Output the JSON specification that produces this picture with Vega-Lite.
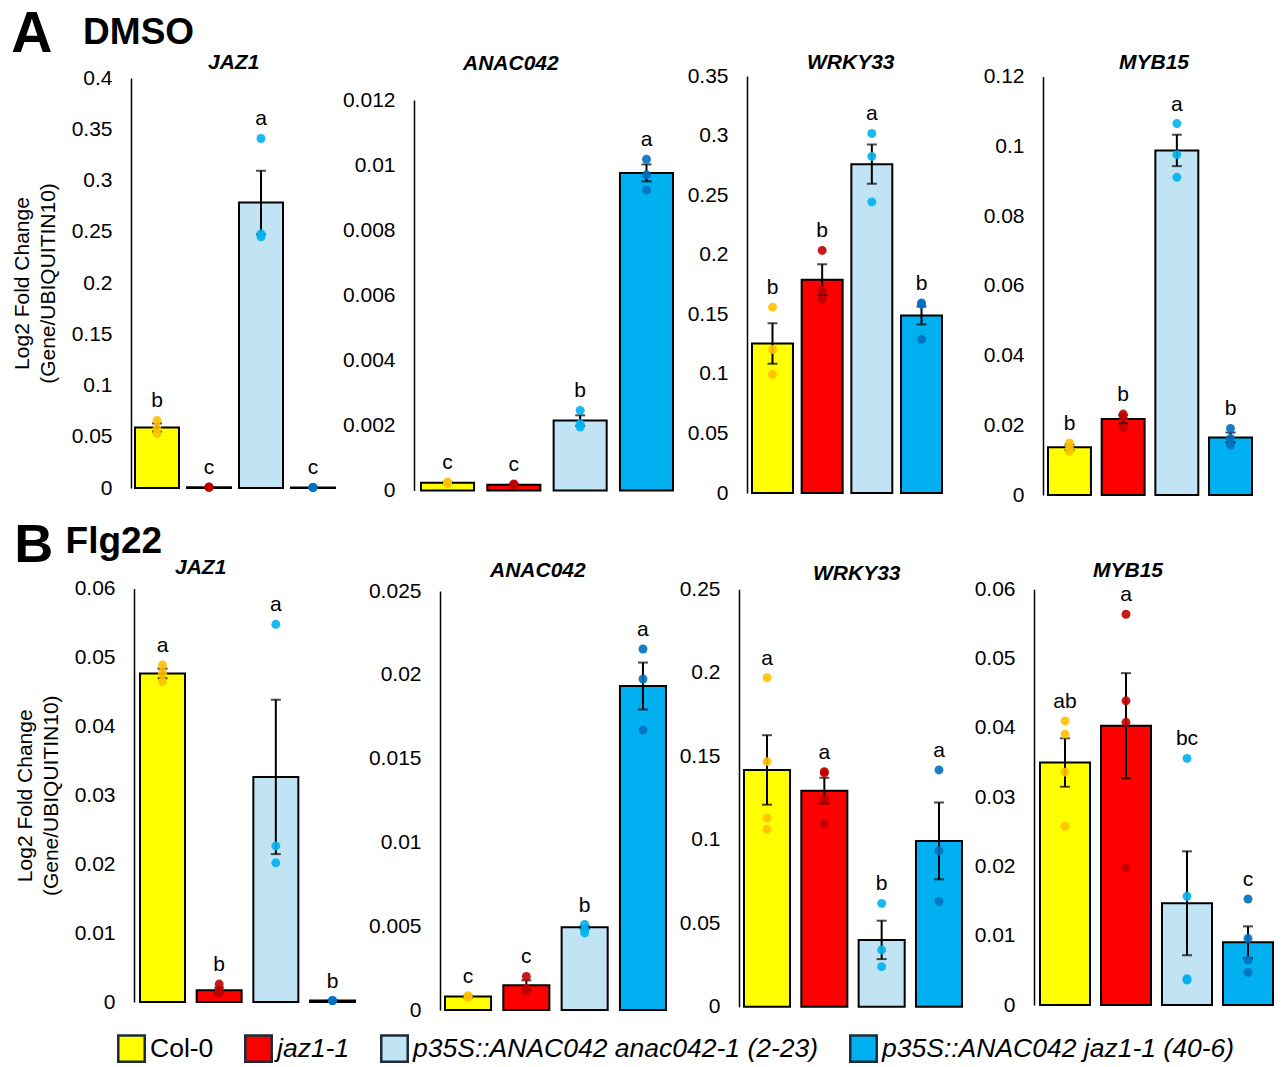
{
  "$schema": "https://vega.github.io/schema/vega-lite/v6.json",
  "padding": {"left": 11, "top": 5, "right": 5, "bottom": 5},
  "background": "white",
  "datasets": {
    "d": [
      {"panel": "A1", "geno": "Col-0", "mean": 0.059, "se": 0.004, "letter": "b", "reps": [0.066, 0.058, 0.053]},
      {"panel": "A1", "geno": "jaz1-1", "mean": 0.0008, "se": 0.0002, "letter": "c", "reps": [0.0009, 0.0008, 0.0007]},
      {"panel": "A1", "geno": "p35S::ANAC042 anac042-1 (2-23)", "mean": 0.2785, "se": 0.031, "letter": "a", "reps": [0.341, 0.248, 0.245]},
      {"panel": "A1", "geno": "p35S::ANAC042 jaz1-1 (40-6)", "mean": 0.0005, "se": 0.0001, "letter": "c", "reps": [0.0006, 0.0005, 0.0004]},
      {"panel": "A2", "geno": "Col-0", "mean": 0.00024, "se": 0.00002, "letter": "c", "reps": [0.00026, 0.00024, 0.00022]},
      {"panel": "A2", "geno": "jaz1-1", "mean": 0.00018, "se": 0.00002, "letter": "c", "reps": [0.0002, 0.00018, 0.00016]},
      {"panel": "A2", "geno": "p35S::ANAC042 anac042-1 (2-23)", "mean": 0.00215, "se": 0.00016, "letter": "b", "reps": [0.00246, 0.00205, 0.00195]},
      {"panel": "A2", "geno": "p35S::ANAC042 jaz1-1 (40-6)", "mean": 0.00976, "se": 0.00026, "letter": "a", "reps": [0.01018, 0.0097, 0.00923]},
      {"panel": "A3", "geno": "Col-0", "mean": 0.1255, "se": 0.017, "letter": "b", "reps": [0.156, 0.1205, 0.0996]},
      {"panel": "A3", "geno": "jaz1-1", "mean": 0.179, "se": 0.013, "letter": "b", "reps": [0.2036, 0.17, 0.1623]},
      {"panel": "A3", "geno": "p35S::ANAC042 anac042-1 (2-23)", "mean": 0.276, "se": 0.0165, "letter": "a", "reps": [0.3018, 0.2825, 0.2443]},
      {"panel": "A3", "geno": "p35S::ANAC042 jaz1-1 (40-6)", "mean": 0.149, "se": 0.0075, "letter": "b", "reps": [0.1595, 0.1585, 0.129]},
      {"panel": "A4", "geno": "Col-0", "mean": 0.01366, "se": 0.0008, "letter": "b", "reps": [0.0149, 0.0135, 0.0125]},
      {"panel": "A4", "geno": "jaz1-1", "mean": 0.02176, "se": 0.0012, "letter": "b", "reps": [0.0232, 0.0224, 0.0193]},
      {"panel": "A4", "geno": "p35S::ANAC042 anac042-1 (2-23)", "mean": 0.0988, "se": 0.0045, "letter": "a", "reps": [0.1065, 0.0976, 0.0911]},
      {"panel": "A4", "geno": "p35S::ANAC042 jaz1-1 (40-6)", "mean": 0.0165, "se": 0.0014, "letter": "b", "reps": [0.0191, 0.0162, 0.0143]},
      {"panel": "B1", "geno": "Col-0", "mean": 0.04767, "se": 0.0007, "letter": "a", "reps": [0.0489, 0.0477, 0.0465]},
      {"panel": "B1", "geno": "jaz1-1", "mean": 0.0017, "se": 0.0004, "letter": "b", "reps": [0.0026, 0.0017, 0.0012]},
      {"panel": "B1", "geno": "p35S::ANAC042 anac042-1 (2-23)", "mean": 0.03266, "se": 0.0112, "letter": "a", "reps": [0.0548, 0.02265, 0.0202]},
      {"panel": "B1", "geno": "p35S::ANAC042 jaz1-1 (40-6)", "mean": 0.0002, "se": 0.00003, "letter": "b", "reps": [0.0002, 0.0002, 0.0002]},
      {"panel": "B2", "geno": "Col-0", "mean": 0.0008, "se": 0.00005, "letter": "c", "reps": [0.00085, 0.0008, 0.00075]},
      {"panel": "B2", "geno": "jaz1-1", "mean": 0.00147, "se": 0.0003, "letter": "c", "reps": [0.002, 0.0013, 0.0011]},
      {"panel": "B2", "geno": "p35S::ANAC042 anac042-1 (2-23)", "mean": 0.00493, "se": 0.0001, "letter": "b", "reps": [0.0051, 0.0048, 0.0046]},
      {"panel": "B2", "geno": "p35S::ANAC042 jaz1-1 (40-6)", "mean": 0.01933, "se": 0.0014, "letter": "a", "reps": [0.02154, 0.01975, 0.0167]},
      {"panel": "B3", "geno": "Col-0", "mean": 0.1418, "se": 0.0208, "letter": "a", "reps": [0.1971, 0.1468, 0.1129, 0.1063]},
      {"panel": "B3", "geno": "jaz1-1", "mean": 0.1294, "se": 0.0077, "letter": "a", "reps": [0.1408, 0.14, 0.1243, 0.1095]},
      {"panel": "B3", "geno": "p35S::ANAC042 anac042-1 (2-23)", "mean": 0.04, "se": 0.0115, "letter": "b", "reps": [0.0619, 0.034, 0.024]},
      {"panel": "B3", "geno": "p35S::ANAC042 jaz1-1 (40-6)", "mean": 0.0993, "se": 0.023, "letter": "a", "reps": [0.1418, 0.0933, 0.0629]},
      {"panel": "B4", "geno": "Col-0", "mean": 0.035, "se": 0.0035, "letter": "ab", "reps": [0.041, 0.0391, 0.0336, 0.0258]},
      {"panel": "B4", "geno": "jaz1-1", "mean": 0.0403, "se": 0.0076, "letter": "a", "reps": [0.0564, 0.0439, 0.0408, 0.0198]},
      {"panel": "B4", "geno": "p35S::ANAC042 anac042-1 (2-23)", "mean": 0.01468, "se": 0.0075, "letter": "bc", "reps": [0.0356, 0.0157, 0.0038, 0.0036]},
      {"panel": "B4", "geno": "p35S::ANAC042 jaz1-1 (40-6)", "mean": 0.00905, "se": 0.0023, "letter": "c", "reps": [0.0153, 0.0096, 0.0065, 0.0047]}
    ]
  },
  "data": {"name": "d"},
  "spacing": 13,
  "vconcat": [
    {
      "title": {"text": "A", "subtitle": "\u200b\u00a0\u00a0\u00a0\u00a0\u00a0\u00a0\u00a0DMSO", "anchor": "start", "fontSize": 57, "fontWeight": "bold", "fontStyle": "normal", "subtitleFontSize": 37, "subtitleFontWeight": "bold", "subtitleFontStyle": "normal", "subtitlePadding": -49, "offset": -11.5, "color": "black", "subtitleColor": "black"},
      "spacing": 0,
      "bounds": "flush",
      "hconcat": [
        {
          "width": 283, "height": 419,
          "title": {"text": "JAZ1", "anchor": "start", "frame": "group", "dx": 77, "offset": -6},
          "transform": [{"filter": "datum.panel === 'A1'"}],
          "layer": [
            {"mark": {"type": "bar", "stroke": "black", "strokeWidth": 2},
             "encoding": {
               "x": {"field": "geno", "type": "nominal", "sort": null, "axis": null, "scale": {"domain": ["Col-0", "jaz1-1", "p35S::ANAC042 anac042-1 (2-23)", "p35S::ANAC042 jaz1-1 (40-6)"], "range": [4, 204], "paddingInner": 0.154, "paddingOuter": 0}},
               "y": {"field": "mean", "type": "quantitative", "title": ["Log2 Fold Change", "(Gene/UBIQUITIN10)"], "scale": {"domain": [0, 0.4], "range": [412, 2], "nice": false, "zero": true}, "axis": {"values": [0, 0.05, 0.1, 0.15, 0.2, 0.25, 0.3, 0.35, 0.4], "format": ".2~f"}},
               "fill": {"field": "geno", "type": "nominal", "scale": {"domain": ["Col-0", "jaz1-1", "p35S::ANAC042 anac042-1 (2-23)", "p35S::ANAC042 jaz1-1 (40-6)"], "range": ["#FFFF00", "#FF0000", "#C1E4F5", "#00B0F0"]}, "legend": {"orient": "none", "legendX": -14, "legendY": 958, "direction": "horizontal", "title": null, "columns": 4, "encode": {"labels": {"update": {"fontStyle": {"signal": "datum.label === 'Col-0' ? 'normal' : 'italic'"}}}}}}
             }},
            {"mark": {"type": "errorbar", "color": "black", "thickness": 2, "ticks": {"size": 10, "thickness": 2}},
             "encoding": {"x": {"field": "geno", "type": "nominal", "sort": null}, "y": {"field": "mean", "type": "quantitative", "title": ["Log2 Fold Change", "(Gene/UBIQUITIN10)"]}, "yError": {"field": "se"}}},
            {"transform": [{"flatten": ["reps"]}],
             "mark": {"type": "circle", "size": 80, "opacity": 0.9},
             "encoding": {"x": {"field": "geno", "type": "nominal", "sort": null}, "y": {"field": "reps", "type": "quantitative", "title": ["Log2 Fold Change", "(Gene/UBIQUITIN10)"]}, "color": {"field": "geno", "type": "nominal", "scale": {"domain": ["Col-0", "jaz1-1", "p35S::ANAC042 anac042-1 (2-23)", "p35S::ANAC042 jaz1-1 (40-6)"], "range": ["#FFC000", "#C00000", "#00B0F0", "#0070C0"]}, "legend": null}}},
            {"transform": [{"flatten": ["reps"]}, {"aggregate": [{"op": "max", "field": "reps", "as": "top"}], "groupby": ["geno", "letter"]}],
             "mark": {"type": "text", "baseline": "alphabetic", "dy": -13, "fontSize": 21, "color": "black"},
             "encoding": {"x": {"field": "geno", "type": "nominal", "sort": null}, "y": {"field": "top", "type": "quantitative", "title": ["Log2 Fold Change", "(Gene/UBIQUITIN10)"]}, "text": {"field": "letter"}}}
          ]
        },
        {
          "width": 333, "height": 419,
          "title": {"text": "ANAC042", "anchor": "start", "frame": "group", "dx": 49, "offset": 2.5},
          "transform": [{"filter": "datum.panel === 'A2'"}],
          "layer": [
            {"mark": {"type": "bar", "stroke": "black", "strokeWidth": 2},
             "encoding": {
               "x": {"field": "geno", "type": "nominal", "sort": null, "axis": null, "scale": {"domain": ["Col-0", "jaz1-1", "p35S::ANAC042 anac042-1 (2-23)", "p35S::ANAC042 jaz1-1 (40-6)"], "range": [7, 259], "paddingInner": 0.2, "paddingOuter": 0}},
               "y": {"field": "mean", "type": "quantitative", "title": null, "scale": {"domain": [0, 0.012], "range": [414.5, 24], "nice": false, "zero": true}, "axis": {"values": [0, 0.002, 0.004, 0.006, 0.008, 0.01, 0.012], "format": ".3~f"}},
               "fill": {"field": "geno", "type": "nominal", "scale": {"domain": ["Col-0", "jaz1-1", "p35S::ANAC042 anac042-1 (2-23)", "p35S::ANAC042 jaz1-1 (40-6)"], "range": ["#FFFF00", "#FF0000", "#C1E4F5", "#00B0F0"]}, "legend": {"orient": "none", "legendX": -14, "legendY": 958, "direction": "horizontal", "title": null, "columns": 4, "encode": {"labels": {"update": {"fontStyle": {"signal": "datum.label === 'Col-0' ? 'normal' : 'italic'"}}}}}}
             }},
            {"mark": {"type": "errorbar", "color": "black", "thickness": 2, "ticks": {"size": 10, "thickness": 2}},
             "encoding": {"x": {"field": "geno", "type": "nominal", "sort": null}, "y": {"field": "mean", "type": "quantitative", "title": null}, "yError": {"field": "se"}}},
            {"transform": [{"flatten": ["reps"]}],
             "mark": {"type": "circle", "size": 80, "opacity": 0.9},
             "encoding": {"x": {"field": "geno", "type": "nominal", "sort": null}, "y": {"field": "reps", "type": "quantitative", "title": null}, "color": {"field": "geno", "type": "nominal", "scale": {"domain": ["Col-0", "jaz1-1", "p35S::ANAC042 anac042-1 (2-23)", "p35S::ANAC042 jaz1-1 (40-6)"], "range": ["#FFC000", "#C00000", "#00B0F0", "#0070C0"]}, "legend": null}}},
            {"transform": [{"flatten": ["reps"]}, {"aggregate": [{"op": "max", "field": "reps", "as": "top"}], "groupby": ["geno", "letter"]}],
             "mark": {"type": "text", "baseline": "alphabetic", "dy": -13, "fontSize": 21, "color": "black"},
             "encoding": {"x": {"field": "geno", "type": "nominal", "sort": null}, "y": {"field": "top", "type": "quantitative", "title": null}, "text": {"field": "letter"}}}
          ]
        },
        {
          "width": 296, "height": 419,
          "title": {"text": "WRKY33", "anchor": "start", "frame": "group", "dx": 60, "offset": -8},
          "transform": [{"filter": "datum.panel === 'A3'"}],
          "layer": [
            {"mark": {"type": "bar", "stroke": "black", "strokeWidth": 2},
             "encoding": {
               "x": {"field": "geno", "type": "nominal", "sort": null, "axis": null, "scale": {"domain": ["Col-0", "jaz1-1", "p35S::ANAC042 anac042-1 (2-23)", "p35S::ANAC042 jaz1-1 (40-6)"], "range": [5, 195], "paddingInner": 0.175, "paddingOuter": 0}},
               "y": {"field": "mean", "type": "quantitative", "title": null, "scale": {"domain": [0, 0.35], "range": [417, 0], "nice": false, "zero": true}, "axis": {"values": [0, 0.05, 0.1, 0.15, 0.2, 0.25, 0.3, 0.35], "format": ".2~f"}},
               "fill": {"field": "geno", "type": "nominal", "scale": {"domain": ["Col-0", "jaz1-1", "p35S::ANAC042 anac042-1 (2-23)", "p35S::ANAC042 jaz1-1 (40-6)"], "range": ["#FFFF00", "#FF0000", "#C1E4F5", "#00B0F0"]}, "legend": {"orient": "none", "legendX": -14, "legendY": 958, "direction": "horizontal", "title": null, "columns": 4, "encode": {"labels": {"update": {"fontStyle": {"signal": "datum.label === 'Col-0' ? 'normal' : 'italic'"}}}}}}
             }},
            {"mark": {"type": "errorbar", "color": "black", "thickness": 2, "ticks": {"size": 10, "thickness": 2}},
             "encoding": {"x": {"field": "geno", "type": "nominal", "sort": null}, "y": {"field": "mean", "type": "quantitative", "title": null}, "yError": {"field": "se"}}},
            {"transform": [{"flatten": ["reps"]}],
             "mark": {"type": "circle", "size": 80, "opacity": 0.9},
             "encoding": {"x": {"field": "geno", "type": "nominal", "sort": null}, "y": {"field": "reps", "type": "quantitative", "title": null}, "color": {"field": "geno", "type": "nominal", "scale": {"domain": ["Col-0", "jaz1-1", "p35S::ANAC042 anac042-1 (2-23)", "p35S::ANAC042 jaz1-1 (40-6)"], "range": ["#FFC000", "#C00000", "#00B0F0", "#0070C0"]}, "legend": null}}},
            {"transform": [{"flatten": ["reps"]}, {"aggregate": [{"op": "max", "field": "reps", "as": "top"}], "groupby": ["geno", "letter"]}],
             "mark": {"type": "text", "baseline": "alphabetic", "dy": -13, "fontSize": 21, "color": "black"},
             "encoding": {"x": {"field": "geno", "type": "nominal", "sort": null}, "y": {"field": "top", "type": "quantitative", "title": null}, "text": {"field": "letter"}}}
          ]
        },
        {
          "width": 230, "height": 419,
          "title": {"text": "MYB15", "anchor": "start", "frame": "group", "dx": 76, "offset": -7.5},
          "transform": [{"filter": "datum.panel === 'A4'"}],
          "layer": [
            {"mark": {"type": "bar", "stroke": "black", "strokeWidth": 2},
             "encoding": {
               "x": {"field": "geno", "type": "nominal", "sort": null, "axis": null, "scale": {"domain": ["Col-0", "jaz1-1", "p35S::ANAC042 anac042-1 (2-23)", "p35S::ANAC042 jaz1-1 (40-6)"], "range": [5, 209], "paddingInner": 0.2, "paddingOuter": 0}},
               "y": {"field": "mean", "type": "quantitative", "title": null, "scale": {"domain": [0, 0.12], "range": [419, 0.5], "nice": false, "zero": true}, "axis": {"values": [0, 0.02, 0.04, 0.06, 0.08, 0.1, 0.12], "format": ".2~f"}},
               "fill": {"field": "geno", "type": "nominal", "scale": {"domain": ["Col-0", "jaz1-1", "p35S::ANAC042 anac042-1 (2-23)", "p35S::ANAC042 jaz1-1 (40-6)"], "range": ["#FFFF00", "#FF0000", "#C1E4F5", "#00B0F0"]}, "legend": {"orient": "none", "legendX": -14, "legendY": 958, "direction": "horizontal", "title": null, "columns": 4, "encode": {"labels": {"update": {"fontStyle": {"signal": "datum.label === 'Col-0' ? 'normal' : 'italic'"}}}}}}
             }},
            {"mark": {"type": "errorbar", "color": "black", "thickness": 2, "ticks": {"size": 10, "thickness": 2}},
             "encoding": {"x": {"field": "geno", "type": "nominal", "sort": null}, "y": {"field": "mean", "type": "quantitative", "title": null}, "yError": {"field": "se"}}},
            {"transform": [{"flatten": ["reps"]}],
             "mark": {"type": "circle", "size": 80, "opacity": 0.9},
             "encoding": {"x": {"field": "geno", "type": "nominal", "sort": null}, "y": {"field": "reps", "type": "quantitative", "title": null}, "color": {"field": "geno", "type": "nominal", "scale": {"domain": ["Col-0", "jaz1-1", "p35S::ANAC042 anac042-1 (2-23)", "p35S::ANAC042 jaz1-1 (40-6)"], "range": ["#FFC000", "#C00000", "#00B0F0", "#0070C0"]}, "legend": null}}},
            {"transform": [{"flatten": ["reps"]}, {"aggregate": [{"op": "max", "field": "reps", "as": "top"}], "groupby": ["geno", "letter"]}],
             "mark": {"type": "text", "baseline": "alphabetic", "dy": -13, "fontSize": 21, "color": "black"},
             "encoding": {"x": {"field": "geno", "type": "nominal", "sort": null}, "y": {"field": "top", "type": "quantitative", "title": null}, "text": {"field": "letter"}}}
          ]
        }
      ]
    },
    {
      "title": {"text": "B", "subtitle": "\u200b\u00a0\u00a0\u00a0\u00a0\u00a0Flg22", "anchor": "start", "fontSize": 54, "fontWeight": "bold", "fontStyle": "normal", "subtitleFontSize": 37, "subtitleFontWeight": "bold", "subtitleFontStyle": "normal", "subtitlePadding": -49, "offset": -16, "color": "black", "subtitleColor": "black"},
      "spacing": 0,
      "bounds": "flush",
      "hconcat": [
        {
          "width": 306, "height": 422,
          "title": {"text": "JAZ1", "anchor": "start", "frame": "group", "dx": 44, "offset": 0},
          "transform": [{"filter": "datum.panel === 'B1'"}],
          "layer": [
            {"mark": {"type": "bar", "stroke": "black", "strokeWidth": 2},
             "encoding": {
               "x": {"field": "geno", "type": "nominal", "sort": null, "axis": null, "scale": {"domain": ["Col-0", "jaz1-1", "p35S::ANAC042 anac042-1 (2-23)", "p35S::ANAC042 jaz1-1 (40-6)"], "range": [9, 224], "paddingInner": 0.206, "paddingOuter": 0}},
               "y": {"field": "mean", "type": "quantitative", "title": ["Log2 Fold Change", "(Gene/UBIQUITIN10)"], "scale": {"domain": [0, 0.06], "range": [414, 0.5], "nice": false, "zero": true}, "axis": {"offset": -3, "values": [0, 0.01, 0.02, 0.03, 0.04, 0.05, 0.06], "format": ".2~f"}},
               "fill": {"field": "geno", "type": "nominal", "scale": {"domain": ["Col-0", "jaz1-1", "p35S::ANAC042 anac042-1 (2-23)", "p35S::ANAC042 jaz1-1 (40-6)"], "range": ["#FFFF00", "#FF0000", "#C1E4F5", "#00B0F0"]}, "legend": {"orient": "none", "legendX": -14, "legendY": 958, "direction": "horizontal", "title": null, "columns": 4, "encode": {"labels": {"update": {"fontStyle": {"signal": "datum.label === 'Col-0' ? 'normal' : 'italic'"}}}}}}
             }},
            {"mark": {"type": "errorbar", "color": "black", "thickness": 2, "ticks": {"size": 10, "thickness": 2}},
             "encoding": {"x": {"field": "geno", "type": "nominal", "sort": null}, "y": {"field": "mean", "type": "quantitative", "title": ["Log2 Fold Change", "(Gene/UBIQUITIN10)"]}, "yError": {"field": "se"}}},
            {"transform": [{"flatten": ["reps"]}],
             "mark": {"type": "circle", "size": 80, "opacity": 0.9},
             "encoding": {"x": {"field": "geno", "type": "nominal", "sort": null}, "y": {"field": "reps", "type": "quantitative", "title": ["Log2 Fold Change", "(Gene/UBIQUITIN10)"]}, "color": {"field": "geno", "type": "nominal", "scale": {"domain": ["Col-0", "jaz1-1", "p35S::ANAC042 anac042-1 (2-23)", "p35S::ANAC042 jaz1-1 (40-6)"], "range": ["#FFC000", "#C00000", "#00B0F0", "#0070C0"]}, "legend": null}}},
            {"transform": [{"flatten": ["reps"]}, {"aggregate": [{"op": "max", "field": "reps", "as": "top"}], "groupby": ["geno", "letter"]}],
             "mark": {"type": "text", "baseline": "alphabetic", "dy": -13, "fontSize": 21, "color": "black"},
             "encoding": {"x": {"field": "geno", "type": "nominal", "sort": null}, "y": {"field": "top", "type": "quantitative", "title": ["Log2 Fold Change", "(Gene/UBIQUITIN10)"]}, "text": {"field": "letter"}}}
          ]
        },
        {
          "width": 299, "height": 422,
          "title": {"text": "ANAC042", "anchor": "start", "frame": "group", "dx": 53, "offset": -1},
          "transform": [{"filter": "datum.panel === 'B2'"}],
          "layer": [
            {"mark": {"type": "bar", "stroke": "black", "strokeWidth": 2},
             "encoding": {
               "x": {"field": "geno", "type": "nominal", "sort": null, "axis": null, "scale": {"domain": ["Col-0", "jaz1-1", "p35S::ANAC042 anac042-1 (2-23)", "p35S::ANAC042 jaz1-1 (40-6)"], "range": [8, 229], "paddingInner": 0.21, "paddingOuter": 0}},
               "y": {"field": "mean", "type": "quantitative", "title": null, "scale": {"domain": [0, 0.025], "range": [422, 3], "nice": false, "zero": true}, "axis": {"offset": -3, "values": [0, 0.005, 0.01, 0.015, 0.02, 0.025], "format": ".3~f"}},
               "fill": {"field": "geno", "type": "nominal", "scale": {"domain": ["Col-0", "jaz1-1", "p35S::ANAC042 anac042-1 (2-23)", "p35S::ANAC042 jaz1-1 (40-6)"], "range": ["#FFFF00", "#FF0000", "#C1E4F5", "#00B0F0"]}, "legend": {"orient": "none", "legendX": -14, "legendY": 958, "direction": "horizontal", "title": null, "columns": 4, "encode": {"labels": {"update": {"fontStyle": {"signal": "datum.label === 'Col-0' ? 'normal' : 'italic'"}}}}}}
             }},
            {"mark": {"type": "errorbar", "color": "black", "thickness": 2, "ticks": {"size": 10, "thickness": 2}},
             "encoding": {"x": {"field": "geno", "type": "nominal", "sort": null}, "y": {"field": "mean", "type": "quantitative", "title": null}, "yError": {"field": "se"}}},
            {"transform": [{"flatten": ["reps"]}],
             "mark": {"type": "circle", "size": 80, "opacity": 0.9},
             "encoding": {"x": {"field": "geno", "type": "nominal", "sort": null}, "y": {"field": "reps", "type": "quantitative", "title": null}, "color": {"field": "geno", "type": "nominal", "scale": {"domain": ["Col-0", "jaz1-1", "p35S::ANAC042 anac042-1 (2-23)", "p35S::ANAC042 jaz1-1 (40-6)"], "range": ["#FFC000", "#C00000", "#00B0F0", "#0070C0"]}, "legend": null}}},
            {"transform": [{"flatten": ["reps"]}, {"aggregate": [{"op": "max", "field": "reps", "as": "top"}], "groupby": ["geno", "letter"]}],
             "mark": {"type": "text", "baseline": "alphabetic", "dy": -13, "fontSize": 21, "color": "black"},
             "encoding": {"x": {"field": "geno", "type": "nominal", "sort": null}, "y": {"field": "top", "type": "quantitative", "title": null}, "text": {"field": "letter"}}}
          ]
        },
        {
          "width": 295, "height": 422,
          "title": {"text": "WRKY33", "anchor": "start", "frame": "group", "dx": 77, "offset": -6},
          "transform": [{"filter": "datum.panel === 'B3'"}],
          "layer": [
            {"mark": {"type": "bar", "stroke": "black", "strokeWidth": 2},
             "encoding": {
               "x": {"field": "geno", "type": "nominal", "sort": null, "axis": null, "scale": {"domain": ["Col-0", "jaz1-1", "p35S::ANAC042 anac042-1 (2-23)", "p35S::ANAC042 jaz1-1 (40-6)"], "range": [8, 226], "paddingInner": 0.197, "paddingOuter": 0}},
               "y": {"field": "mean", "type": "quantitative", "title": null, "scale": {"domain": [0, 0.25], "range": [418.7, 1.3], "nice": false, "zero": true}, "axis": {"offset": -3, "values": [0, 0.05, 0.1, 0.15, 0.2, 0.25], "format": ".2~f"}},
               "fill": {"field": "geno", "type": "nominal", "scale": {"domain": ["Col-0", "jaz1-1", "p35S::ANAC042 anac042-1 (2-23)", "p35S::ANAC042 jaz1-1 (40-6)"], "range": ["#FFFF00", "#FF0000", "#C1E4F5", "#00B0F0"]}, "legend": {"orient": "none", "legendX": -14, "legendY": 958, "direction": "horizontal", "title": null, "columns": 4, "encode": {"labels": {"update": {"fontStyle": {"signal": "datum.label === 'Col-0' ? 'normal' : 'italic'"}}}}}}
             }},
            {"mark": {"type": "errorbar", "color": "black", "thickness": 2, "ticks": {"size": 10, "thickness": 2}},
             "encoding": {"x": {"field": "geno", "type": "nominal", "sort": null}, "y": {"field": "mean", "type": "quantitative", "title": null}, "yError": {"field": "se"}}},
            {"transform": [{"flatten": ["reps"]}],
             "mark": {"type": "circle", "size": 80, "opacity": 0.9},
             "encoding": {"x": {"field": "geno", "type": "nominal", "sort": null}, "y": {"field": "reps", "type": "quantitative", "title": null}, "color": {"field": "geno", "type": "nominal", "scale": {"domain": ["Col-0", "jaz1-1", "p35S::ANAC042 anac042-1 (2-23)", "p35S::ANAC042 jaz1-1 (40-6)"], "range": ["#FFC000", "#C00000", "#00B0F0", "#0070C0"]}, "legend": null}}},
            {"transform": [{"flatten": ["reps"]}, {"aggregate": [{"op": "max", "field": "reps", "as": "top"}], "groupby": ["geno", "letter"]}],
             "mark": {"type": "text", "baseline": "alphabetic", "dy": -13, "fontSize": 21, "color": "black"},
             "encoding": {"x": {"field": "geno", "type": "nominal", "sort": null}, "y": {"field": "top", "type": "quantitative", "title": null}, "text": {"field": "letter"}}}
          ]
        },
        {
          "width": 245, "height": 422,
          "title": {"text": "MYB15", "anchor": "start", "frame": "group", "dx": 62, "offset": -3},
          "transform": [{"filter": "datum.panel === 'B4'"}],
          "layer": [
            {"mark": {"type": "bar", "stroke": "black", "strokeWidth": 2},
             "encoding": {
               "x": {"field": "geno", "type": "nominal", "sort": null, "axis": null, "scale": {"domain": ["Col-0", "jaz1-1", "p35S::ANAC042 anac042-1 (2-23)", "p35S::ANAC042 jaz1-1 (40-6)"], "range": [9, 242], "paddingInner": 0.18, "paddingOuter": 0}},
               "y": {"field": "mean", "type": "quantitative", "title": null, "scale": {"domain": [0, 0.06], "range": [417, 1.3], "nice": false, "zero": true}, "axis": {"offset": -3, "values": [0, 0.01, 0.02, 0.03, 0.04, 0.05, 0.06], "format": ".2~f"}},
               "fill": {"field": "geno", "type": "nominal", "scale": {"domain": ["Col-0", "jaz1-1", "p35S::ANAC042 anac042-1 (2-23)", "p35S::ANAC042 jaz1-1 (40-6)"], "range": ["#FFFF00", "#FF0000", "#C1E4F5", "#00B0F0"]}, "legend": {"orient": "none", "legendX": -14, "legendY": 958, "direction": "horizontal", "title": null, "columns": 4, "encode": {"labels": {"update": {"fontStyle": {"signal": "datum.label === 'Col-0' ? 'normal' : 'italic'"}}}}}}
             }},
            {"mark": {"type": "errorbar", "color": "black", "thickness": 2, "ticks": {"size": 10, "thickness": 2}},
             "encoding": {"x": {"field": "geno", "type": "nominal", "sort": null}, "y": {"field": "mean", "type": "quantitative", "title": null}, "yError": {"field": "se"}}},
            {"transform": [{"flatten": ["reps"]}],
             "mark": {"type": "circle", "size": 80, "opacity": 0.9},
             "encoding": {"x": {"field": "geno", "type": "nominal", "sort": null}, "y": {"field": "reps", "type": "quantitative", "title": null}, "color": {"field": "geno", "type": "nominal", "scale": {"domain": ["Col-0", "jaz1-1", "p35S::ANAC042 anac042-1 (2-23)", "p35S::ANAC042 jaz1-1 (40-6)"], "range": ["#FFC000", "#C00000", "#00B0F0", "#0070C0"]}, "legend": null}}},
            {"transform": [{"flatten": ["reps"]}, {"aggregate": [{"op": "max", "field": "reps", "as": "top"}], "groupby": ["geno", "letter"]}],
             "mark": {"type": "text", "baseline": "alphabetic", "dy": -13, "fontSize": 21, "color": "black"},
             "encoding": {"x": {"field": "geno", "type": "nominal", "sort": null}, "y": {"field": "top", "type": "quantitative", "title": null}, "text": {"field": "letter"}}}
          ]
        }
      ]
    }
  ],
  "config": {
    "font": "Liberation Sans",
    "view": {"stroke": null},
    "title": {"font": "Liberation Sans", "subtitleFont": "Liberation Sans", "fontSize": 21, "fontWeight": "bold", "fontStyle": "italic", "color": "black"},
    "axis": {"domainColor": "black", "domainWidth": 1.5, "ticks": false, "tickSize": 0, "grid": false, "labelFontSize": 21, "labelPadding": 19, "labelColor": "black", "labelFont": "Liberation Sans", "labelFlush": false, "labelOverlap": false, "labelBound": false, "titleFontSize": 21, "titleFontWeight": "normal", "titleColor": "black", "titleFont": "Liberation Sans", "titlePadding": 13, "titleLineHeight": 26},
    "legend": {"symbolType": "square", "symbolSize": 700, "symbolStrokeColor": "#1b2b3b", "symbolStrokeWidth": 2.5, "symbolOpacity": 1, "labelFontSize": 26.5, "labelFont": "Liberation Sans", "labelColor": "black", "labelLimit": 700, "columnPadding": 26, "labelOffset": 4}
  }
}
